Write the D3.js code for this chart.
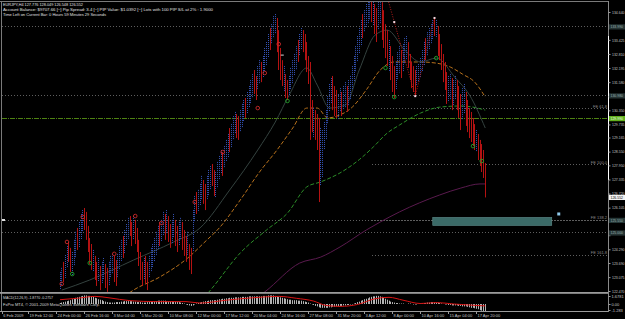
<!DOCTYPE html>
<html>
<head>
<meta charset="utf-8">
<script src="https://cdn.jsdelivr.net/npm/d3@7/dist/d3.min.js"></script>
<style>
body{margin:0;background:#000;}
svg{display:block;font-family:"Liberation Sans",Arial,sans-serif;}
</style>
</head>
<body>
<svg class="chart"></svg>
<script>
/* barras H4, maximos y minimos */
var barHigh = [
 123.30,123.48,123.74,124.04,124.43,124.61,124.35,124.17,124.70,125.05,125.22,125.48,125.83,126.00,126.09,125.92,125.31,124.78,124.52,
 124.26,124.00,123.74,123.91,123.56,123.74,123.91,123.65,123.48,123.74,124.00,124.09,124.00,123.82,
 124.09,124.43,124.70,124.87,125.13,125.39,125.66,125.74,125.48,125.74,125.57,125.22,
 124.70,124.17,123.74,123.91,124.00,123.74,124.00,124.35,124.52,124.78,125.05,125.31,125.48,
 125.57,125.92,125.83,126.00,125.74,125.39,125.57,125.83,125.57,125.31,125.48,125.66,125.48,125.13,124.87,125.05,
 124.52,124.35,126.00,126.61,126.79,
 126.88,127.14,127.49,127.31,127.14,127.49,127.75,127.92,128.01,127.75,127.66,128.10,128.36,128.62,128.53,
 128.79,129.06,129.32,129.58,129.75,130.10,130.28,130.19,130.10,130.36,130.63,130.80,130.89,131.15,131.41,131.67,
 131.93,132.11,131.85,132.28,132.54,132.46,
 132.72,133.07,133.33,133.68,133.94,134.11,134.46,134.55,
 134.38,133.85,133.07,132.54,132.28,131.93,131.67,
 131.85,132.20,132.54,132.81,133.15,133.42,133.68,133.94,133.85,133.68,133.33,132.72,
 132.46,130.80,130.45,130.36,130.19,130.02,129.58,129.49,129.84,130.36,
 130.97,131.50,131.76,131.85,131.41,131.24,131.06,131.32,131.15,131.41,131.58,131.41,131.67,131.85,
 132.28,132.72,133.15,133.59,133.94,134.29,134.55,134.72,134.99,135.16,135.33,135.16,
 135.25,134.99,134.81,135.16,135.33,135.07,134.72,134.11,133.85,133.42,133.15,132.72,132.28,132.46,
 132.89,133.15,132.98,133.24,133.50,133.59,133.33,132.81,132.46,132.28,132.11,
 132.28,132.37,132.63,132.98,133.33,133.50,133.76,133.94,134.11,134.29,134.38,134.29,
 134.03,133.68,133.24,132.81,132.46,132.02,131.85,131.93,131.76,131.67,131.85,131.67,
 131.41,131.06,131.32,131.50,131.15,130.80,130.45,130.28,130.02,129.75,129.49,129.32,129.06,128.88,128.62,128.05
];
var barLow = [
 122.51,122.69,122.86,123.04,123.48,123.74,123.30,123.13,123.56,123.91,124.26,124.35,124.70,125.05,125.13,124.70,124.17,123.65,123.39,
 123.30,122.95,122.69,122.86,122.51,122.78,122.95,122.60,122.43,122.69,123.04,123.21,122.86,122.69,
 123.04,123.39,123.74,123.91,124.09,124.43,124.70,124.87,124.43,124.70,124.52,124.17,
 123.56,122.95,122.69,122.95,122.78,122.51,123.04,123.30,123.48,123.74,124.00,124.26,124.43,
 124.61,124.87,124.70,124.96,124.61,124.35,124.52,124.78,124.43,124.17,124.43,124.70,124.26,124.00,123.74,124.00,
 123.39,123.21,124.17,125.48,125.83,
 125.92,126.18,126.44,126.27,126.00,126.44,126.61,126.88,127.05,126.61,126.53,126.96,127.31,127.57,127.49,
 127.84,128.10,128.27,128.53,128.71,129.06,129.32,129.14,129.06,129.40,129.58,129.84,130.02,130.19,130.45,130.63,
 130.89,131.06,130.80,131.24,131.50,131.58,
 131.76,132.02,132.28,132.63,132.98,133.24,133.50,133.68,
 132.89,132.11,131.67,131.41,131.15,130.89,130.80,
 130.97,131.24,131.50,131.85,132.11,132.46,132.72,132.98,132.89,132.54,132.02,131.50,
 129.06,129.40,129.14,129.06,128.62,126.35,127.05,127.40,128.62,129.06,
 129.75,130.28,130.63,130.36,130.10,130.02,129.93,130.28,130.10,130.36,130.45,130.28,130.54,130.80,
 131.24,131.58,132.02,132.46,132.81,133.15,133.50,133.76,133.94,134.11,134.29,134.20,
 134.03,133.68,133.33,133.85,134.11,133.42,133.07,132.63,132.28,132.02,131.67,131.15,130.89,131.24,
 131.67,131.93,131.76,132.02,132.37,132.54,132.20,131.67,131.32,131.15,130.97,
 131.41,131.58,131.76,132.02,132.28,132.54,132.72,132.98,133.24,133.42,133.59,133.50,
 132.72,132.54,132.11,131.58,131.24,130.63,130.71,130.80,130.36,130.54,130.80,130.36,
 130.02,129.49,129.93,130.19,129.67,129.40,129.14,128.97,128.79,128.62,128.53,128.18,127.92,127.66,127.40,126.55
];
// u = barra alcista (azul), d = bajista (roja)
var barDir = "uuduudduuuduuuddddd" + "udduduudduuudd" + "uuuduuuddudd" + "dddudduuuuuud" +
  "uududduudduudddu" + "dduud" + "uuudduuudduuuud" + "uuuduuudduuuduuu" + "udduud" + "uuuuduuu" +
  "ddddudd" + "uuuuuduudddd" + "dduddduuuu" + "uuuddduuduuduu" + "uuuuuuduuuud" + "udduuddddudddu" +
  "uuduuuddddd" + "uuuuuduuuudu" + "dddddduuduud" + "dduudddddduddddd";

var macdHist = [
 0.2,0.3,0.4,0.5,0.6,0.7,0.8,
 1.0,1.1,1.3,1.4,1.5,1.6,1.7,1.8,1.8,1.7,1.7,
 1.6,1.5,1.3,1.2,1.0,0.9,0.8,0.6,0.5,0.4,0.3,0.3,
 0.3,0.3,0.4,0.4,0.4,0.5,0.5,0.6,0.6,0.6,0.6,
 0.6,0.5,0.5,0.4,0.4,0.4,0.3,0.3,0.3,0.4,0.4,0.5,0.5,0.6,0.6,0.7,0.7,0.7,0.7,0.7,0.6,0.6,0.6,0.6,0.5,0.5,0.5,0.4,0.3,0.2,0.1,
 -0.1,-0.2,-0.3,-0.4,-0.3,-0.1,
 0.1,0.2,0.3,0.4,0.5,0.6,0.6,0.7,0.8,0.8,0.8,0.8,0.9,1.0,1.0,1.1,1.1,1.2,1.2,1.3,
 1.3,1.3,1.4,1.4,1.4,1.4,1.5,1.5,1.5,1.5,1.6,1.6,1.6,1.6,1.6,1.6,1.6,1.6,1.7,1.7,1.7,1.8,1.8,1.8,1.8,1.7,
 1.6,1.5,1.4,1.3,1.2,1.1,1.0,0.9,0.9,0.8,0.8,0.8,0.7,0.7,
 0.7,0.6,0.5,0.4,0.3,0.1,-0.1,-0.2,-0.4,
 -0.5,-0.7,-0.8,-0.8,-0.8,-0.8,-0.8,-0.7,-0.7,-0.6,-0.6,
 -0.5,-0.5,-0.4,-0.4,-0.3,-0.3,-0.2,-0.2,-0.1,-0.1,0.1,0.2,
 0.4,0.5,0.7,0.8,1.0,1.1,1.2,1.4,1.5,1.6,1.6,1.7,1.7,1.6,
 1.5,1.3,1.1,0.9,0.7,0.5,0.4,
 0.3,0.2,0.2,0.1,0.1,0.1,0.0,0.0,0.1,0.1,0.0,-0.1,-0.1,-0.1,0.0,0.1,
 0.1,0.2,0.2,0.3,0.3,0.4,0.4,0.4,0.3,0.3,0.2,
 0.1,0.0,-0.1,-0.1,-0.2,-0.2,-0.3,-0.3,-0.3,-0.3,-0.4,-0.4,-0.5,-0.5,-0.5,-0.6,-0.7,-0.8,-0.8,-0.9,-1.0,-1.1,-1.3,-1.4,-1.6,-1.9
];
var macdSignal = [[0,0.9],[10,1.2],[20,1.6],[28,1.3],[40,0.7],[55,0.5],[72,0.5],[80,0.2],[95,0.8],[110,1.3],[125,1.6],[135,1.2],
 [145,0.6],[152,-0.3],[160,-0.5],[170,-0.1],[180,1.1],[188,1.4],[196,0.8],[206,0.1],[215,0.3],[225,0.0],[243,-0.4]];

/* medias moviles [barra, precio] */
var maFast = [[1,122.51],[17,122.95],[42,123.82],[65,124.61],[80,125.22],[97,126.88],[113,128.62],[123,129.84],[131,131.02],[141,132.20],
 [147,131.45],[154,130.45],[163,130.58],[171,132.11],[180,133.63],[187,133.85],[197,132.98],[206,132.46],[215,132.63],[226,131.76],[234,131.02],[243,129.58]];
var maOrange = [[34,122.08],[42,122.51],[57,123.08],[73,123.91],[84,124.70],[91,125.22],[103,126.44],[114,127.66],[124,128.62],[133,129.58],
 [141,130.45],[147,130.45],[153,130.02],[160,130.15],[167,130.49],[175,131.24],[183,132.11],[191,132.46],[206,132.46],[215,132.41],[223,132.24],[230,131.93],[237,131.58],[243,130.93]];
var maGreen = [[80,121.99],[86,122.51],[103,124.13],[118,125.13],[130,125.87],[141,127.01],[149,127.23],[160,127.62],[171,128.20],[179,128.75],
 [187,129.36],[194,129.71],[206,130.23],[217,130.49],[229,130.54],[236,130.49],[243,130.36]];
var maPurple = [[109,121.99],[117,122.43],[137,123.69],[149,123.95],[160,124.39],[175,125.13],[183,125.48],[194,125.92],[217,126.66],[229,126.96],[240,127.14],[243,127.14]];

var redMarks = [[1,122.78],[4,124.61],[13,125.70],[31,124.09],[43,125.74],[58,125.44],[77,126.35],[93,128.53],[113,130.45],[117,131.98],[125,133.24]];
var greenMarks = [[7,123.21],[17,123.69],[130,130.76],[186,132.20],[191,130.93],[215,132.63],[236,128.79],[241,128.14]];
var zigzag = [[187,135.29],[203,130.97],[214,134.38]];
var zzDots = [[191,134.20],[203,130.97],[214,134.38]];

/* niveles horizontales */
var fullLevels = [133.99,130.98,125.55,125.00];
var feLevels = [130.41,127.97,125.55,124.04];
var feNames = ['FE 61.8','FE 100.0','FE 138.2','FE 161.8'];
var greenLevel = 129.99;
var bidPrice = 126.552;
var zoneBox = [213,281,125.68,125.33];
var zoneMark = [285,125.83];

var priceTicks = [122.470,123.075,123.690,124.290,124.905,125.520,126.105,126.720,127.335,127.950,128.550,
 129.165,129.735,130.350,130.965,131.580,132.195,132.810,133.425,134.040,134.640];
var macdTicks = [1.6781,0,-1.283];
var macdTickText = ['1.6781','0.00','-1.283'];
var dateIdx = [-33,-18,-2,14,30,46,62,78,94,110,126,142,158,174,190,206,222,238];
var dateText = ['6 Feb 2009','19 Feb 12:00','24 Feb 00:00','26 Feb 16:00','3 Mar 04:00','5 Mar 20:00','10 Mar 08:00',
 '12 Mar 00:00','17 Mar 12:00','20 Mar 04:00','24 Mar 16:00','27 Mar 08:00','31 Mar 20:00','3 Apr 12:00',
 '8 Apr 00:00','10 Apr 16:00','15 Apr 04:00','17 Apr 20:00'];

var header = ['EURJPY,H4  127.776 128.049 126.548 126.552',
 'Account Balance: $9707.66 [~] Pip Spread: 3.4 [~] PIP Value: $1.0392 [~] Lots with 100 PIP S/L at 2% : 1.9000',
 'Time Left on Current Bar: 0 Hours 59 Minutes 29 Seconds'];
var headerLen = [80,210,103];

var W = 625, H = 319;
var x = d3.scaleLinear().domain([0,243]).range([60,485.25]);
var y = d3.scaleLinear().domain([122.47,134.64]).range([291,12]);
var ym = d3.scaleLinear().domain([0,1.6781]).range([304,296]);
var px = v=>Math.floor(v)+0.5;

var svg = d3.select('.chart').attr('width',W).attr('height',H).attr('viewBox','0 0 '+W+' '+H);
svg.append('rect').attr('width',W).attr('height',H).attr('fill','#000');

var defs = svg.append('defs');
defs.append('clipPath').attr('id','cm').append('rect').attr('x',2).attr('y',2).attr('width',606).attr('height',290);
defs.append('clipPath').attr('id','cd').append('rect').attr('x',2).attr('y',294).attr('width',606).attr('height',17.5);

var main = svg.append('g').attr('clip-path','url(#cm)');

// lineas punteadas de niveles
main.selectAll('.lvl').data(fullLevels).enter().append('line')
  .attr('x1',2).attr('x2',608).attr('y1',d=>px(y(d))).attr('y2',d=>px(y(d)))
  .attr('stroke','#5e5e5e').attr('stroke-dasharray','1,2');
main.selectAll('.fe').data(feLevels).enter().append('line')
  .attr('x1',372).attr('x2',608).attr('y1',d=>px(y(d))).attr('y2',d=>px(y(d)))
  .attr('stroke','#5e5e5e').attr('stroke-dasharray','1,2');
main.append('line').attr('x1',2).attr('x2',608).attr('y1',px(y(greenLevel))).attr('y2',px(y(greenLevel)))
  .attr('stroke','#4e8212').attr('stroke-dasharray','5,1,1,1');
svg.selectAll('.fet').data(feLevels).enter().append('text')
  .attr('x',607).attr('y',d=>y(d)-1).attr('text-anchor','end')
  .attr('font-size','4px').attr('fill','#8a8a8a').text((d,i)=>feNames[i]);

// zona
main.append('rect').attr('x',x(zoneBox[0])).attr('width',x(zoneBox[1])-x(zoneBox[0]))
  .attr('y',y(zoneBox[2])).attr('height',y(zoneBox[3])-y(zoneBox[2]))
  .attr('fill','#3b6a67').attr('stroke','#5e8e8c').attr('stroke-width',0.6);
main.append('rect').attr('x',x(zoneMark[0])-1.5).attr('y',y(zoneMark[1])-1.5).attr('width',3).attr('height',3).attr('fill','#8ec8ea');

// medias
var ln = d3.line().x(d=>x(d[0])).y(d=>y(d[1])).curve(d3.curveMonotoneX);
main.append('path').attr('d',ln(maPurple)).attr('fill','none').attr('stroke','#5a1a4e').attr('stroke-width',1);
main.append('path').attr('d',ln(maGreen)).attr('fill','none').attr('stroke','#2c8e28').attr('stroke-width',1).attr('stroke-dasharray','4,2');
main.append('path').attr('d',ln(maOrange)).attr('fill','none').attr('stroke','#b8721c').attr('stroke-width',1).attr('stroke-dasharray','4,2');
main.append('path').attr('d',ln(maFast)).attr('fill','none').attr('stroke','#34423f').attr('stroke-width',1);

// barras
main.selectAll('.bar').data(barHigh).enter().append('line')
  .attr('x1',(d,i)=>px(x(i))).attr('x2',(d,i)=>px(x(i)))
  .attr('y1',d=>y(d)).attr('y2',(d,i)=>y(barLow[i]))
  .attr('stroke',(d,i)=>barDir[i]=='u'?'#3452b4':'#b41212')
  .attr('stroke-dasharray',(d,i)=>barDir[i]=='u'?'1,1':null)
  .attr('stroke-width',1);

// zigzag
main.append('path').attr('d',d3.line().x(d=>x(d[0])).y(d=>y(d[1]))(zigzag))
  .attr('fill','none').attr('stroke','#b81c1c').attr('stroke-dasharray','1,1.5');
main.selectAll('.zz').data(zzDots).enter().append('rect')
  .attr('x',d=>x(d[0])-1).attr('y',d=>y(d[1])-1).attr('width',2).attr('height',2)
  .attr('fill','#f4d8e0');
main.append('rect').attr('x',x(127)-1.5).attr('y',y(132.76)-0.5).attr('width',3).attr('height',1).attr('fill','#d8d8d8');

main.selectAll('.rm').data(redMarks).enter().append('circle')
  .attr('cx',d=>x(d[0])).attr('cy',d=>y(d[1])).attr('r',1.8)
  .attr('fill','none').attr('stroke','#cc2a2a').attr('stroke-width',0.9);
main.selectAll('.gm').data(greenMarks).enter().append('circle')
  .attr('cx',d=>x(d[0])).attr('cy',d=>y(d[1])).attr('r',1.8)
  .attr('fill','none').attr('stroke','#22a02a').attr('stroke-width',0.9);

svg.append('rect').attr('x',2).attr('y',219).attr('width',3).attr('height',2).attr('fill','#e0e0e0');

// MACD
var macd = svg.append('g').attr('clip-path','url(#cd)');
macd.selectAll('.h').data(macdHist).enter().append('line')
  .attr('x1',(d,i)=>px(x(i))).attr('x2',(d,i)=>px(x(i)))
  .attr('y1',ym(0)).attr('y2',d=>ym(d))
  .attr('stroke','#b4b4b4').attr('stroke-width',1);
macd.append('path').attr('d',d3.line().x(d=>x(d[0])).y(d=>ym(d[1])).curve(d3.curveMonotoneX)(macdSignal))
  .attr('fill','none').attr('stroke','#d81414').attr('stroke-width',1);

// marcos
svg.append('line').attr('x1',0).attr('x2',608).attr('y1',1.5).attr('y2',1.5).attr('stroke','#7a7a7a');
svg.append('line').attr('x1',1.5).attr('x2',1.5).attr('y1',1).attr('y2',312).attr('stroke','#7a7a7a');
svg.append('rect').attr('x',0).attr('y',292).attr('width',608.5).attr('height',1.8).attr('fill','#9a9a9a');
svg.append('line').attr('x1',0).attr('x2',608.5).attr('y1',311.5).attr('y2',311.5).attr('stroke','#9a9a9a');
svg.append('line').attr('x1',608.5).attr('x2',608.5).attr('y1',1).attr('y2',312).attr('stroke','#8a8a8a');
svg.append('line').attr('x1',608.5).attr('x2',608.5).attr('y1',36).attr('y2',180).attr('stroke','#ffffff');

// etiquetas resaltadas del eje
var tags = [{p:133.99,bg:'#263434',fg:'#9ab0b0'},{p:130.98,bg:'#263434',fg:'#9ab0b0'},{p:greenLevel,bg:'#62b01c',fg:'#eaffea'},
  {p:bidPrice,bg:'#f2f2f2',fg:'#000'},{p:125.55,bg:'#263838',fg:'#9ab0b0'},{p:125.00,bg:'#263434',fg:'#9ab0b0'}];

// eje de precios
var yAx = d3.axisRight(y).tickValues(priceTicks).tickFormat(d3.format('.3f')).tickSize(2).tickPadding(1.5);
var gy = svg.append('g').attr('transform','translate(608.5,0)').call(yAx);
gy.select('.domain').remove();
gy.selectAll('line').attr('stroke','#9a9a9a');
gy.selectAll('text').attr('font-size','4px').attr('fill','#c4c4c4').attr('font-family','"Liberation Sans",Arial,sans-serif')
  .attr('textLength',12.5).attr('lengthAdjust','spacingAndGlyphs');
gy.selectAll('.tick').filter(d=>tags.some(t=>Math.abs(y(t.p)-y(d))<3.5)).select('text').remove();

var tg = svg.selectAll('.tag').data(tags).enter().append('g');
tg.append('rect').attr('x',609).attr('y',d=>y(d.p)-2.6).attr('width',16).attr('height',5.2).attr('fill',d=>d.bg);
tg.append('text').attr('x',610.5).attr('y',d=>y(d.p)+1.5).attr('font-size','4px').attr('fill',d=>d.fg)
  .attr('textLength',12.5).attr('lengthAdjust','spacingAndGlyphs').text(d=>d.p.toFixed(3));

var gm = svg.append('g').attr('transform','translate(608.5,0)');
gm.selectAll('text').data(macdTicks).enter().append('text')
  .attr('x',3).attr('y',d=>ym(d)+1.5).attr('font-size','4px').attr('fill','#c4c4c4').text((d,i)=>macdTickText[i]);
gm.selectAll('line').data(macdTicks).enter().append('line')
  .attr('x1',0).attr('x2',2).attr('y1',d=>px(ym(d))).attr('y2',d=>px(ym(d))).attr('stroke','#9a9a9a');

// eje de tiempo
var gx = svg.append('g');
gx.selectAll('line').data(dateIdx).enter().append('line')
  .attr('x1',d=>px(x(d))).attr('x2',d=>px(x(d))).attr('y1',312).attr('y2',314).attr('stroke','#9a9a9a');
gx.selectAll('text').data(dateIdx).enter().append('text')
  .attr('x',d=>x(d)+1).attr('y',316.8).attr('font-size','4px').attr('fill','#c4c4c4').text((d,i)=>dateText[i]);

// textos
svg.selectAll('.hd').data(header).enter().append('text')
  .attr('x',3).attr('y',(d,i)=>5.6+i*5).attr('font-size','4px').attr('fill','#e2e2e2')
  .attr('textLength',(d,i)=>headerLen[i]).attr('lengthAdjust','spacingAndGlyphs').text(d=>d);
svg.append('text').attr('x',3).attr('y',298.8).attr('font-size','4px').attr('fill','#d8d8d8')
  .attr('textLength',50).attr('lengthAdjust','spacingAndGlyphs').text('MACD(12,26,9) -1.8770 -0.2757');
svg.append('text').attr('x',3).attr('y',305.6).attr('font-size','4px').attr('fill','#d8d8d8')
  .attr('textLength',97).attr('lengthAdjust','spacingAndGlyphs').text('FxPro MT4, \u00a9 2001-2009 MetaQuotes Software Corp.');
</script>
</body>
</html>
